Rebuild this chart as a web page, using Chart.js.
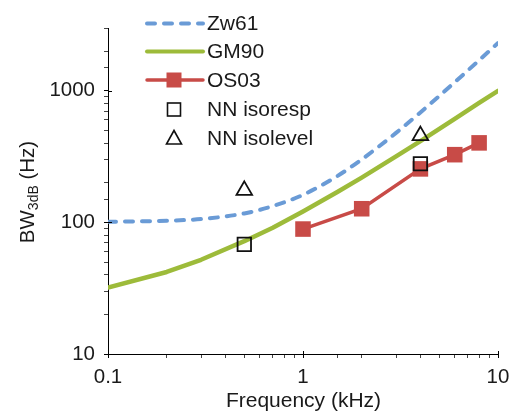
<!DOCTYPE html>
<html><head><meta charset="utf-8">
<script src="https://cdn.jsdelivr.net/npm/chart.js@4"></script>
<style>html,body{margin:0;padding:0;background:#fff;} #wrap{width:519px;height:414px;position:relative;}</style>
</head><body><div id="wrap"><canvas id="c" width="519" height="414"></canvas></div>
<script>
const zw61Freq = [0.1,0.2,0.3,0.5,0.7,1,1.5,2,3,4,5,6,8,10];
const zw61BW   = [101,103,106,117,133,162,225,301,479,685,914,1162,1706,2306];
const gm90Freq = [0.1,0.2,0.3,0.5,0.7,1,1.5,2,3,4,5,6,8,10];
const gm90BW   = [32,42,52,72,91,121,170,219,317,415,514,612,808,1000];
const os03Freq = [1,2,4,6,8];
const os03BW   = [89,127,255,327,402];
const isorespFreq = [0.5,4];
const isorespBW   = [68,279];
const isolevelFreq = [0.5,4];
const isolevelBW   = [175,456];
const xTickLabels = ['0.1','1','10'];
const yTickLabels = ['10','100','1000'];
const seriesNames = ['Zw61','GM90','OS03','NN isoresp','NN isolevel'];

const BLUE = '#6a9bd6', GREEN = '#9dbb3a', RED = '#c84b47', INK = '#111';
const FONT = '"Liberation Sans", Arial, sans-serif';

function pts(xs, ys){ return xs.map((x,i)=>({x:x, y:ys[i]})); }
function labelFor(list, v){
  for (const l of list){ if (Math.abs(Number(l) - v) < 1e-9 * Math.max(1, v)) return l; }
  return '';
}
function isMajor(v){ const l = Math.log10(v); return Math.abs(l - Math.round(l)) < 1e-9; }

const extras = {
  id: 'extras',
  afterDraw(chart){
    const ctx = chart.ctx;
    const xs = chart.scales.x, ys = chart.scales.y;
    ctx.save();
    ctx.strokeStyle = '#000'; ctx.lineWidth = 1;
    [1,10].forEach(v=>{ const px = Math.round(xs.getPixelForValue(v))+0.5; ctx.beginPath(); ctx.moveTo(px, ys.bottom); ctx.lineTo(px, ys.bottom-3); ctx.stroke(); });
    [10,100,1000].forEach(v=>{ const py = Math.round(ys.getPixelForValue(v))+0.5; ctx.beginPath(); ctx.moveTo(xs.left, py); ctx.lineTo(xs.left+4, py); ctx.stroke(); });
    // x title
    ctx.fillStyle = '#1a1a1a';
    ctx.font = '21px ' + FONT;
    ctx.textAlign = 'center'; ctx.textBaseline = 'alphabetic';
    ctx.fillText('Frequency (kHz)', 303.5, 406.5);
    // y title with subscript
    const main1 = 'BW', sub = '3dB', main2 = ' (Hz)';
    ctx.font = '20.5px ' + FONT; const w1 = ctx.measureText(main1).width, w3 = ctx.measureText(main2).width;
    ctx.font = '14px ' + FONT; const w2 = ctx.measureText(sub).width;
    const total = w1 + w2 + w3;
    ctx.translate(34, 192); ctx.rotate(-Math.PI/2);
    ctx.textAlign = 'left';
    let xp = -total/2;
    ctx.font = '20.5px ' + FONT; ctx.fillText(main1, xp, 0); xp += w1;
    ctx.font = '14px ' + FONT; ctx.fillText(sub, xp, 4); xp += w2;
    ctx.font = '20.5px ' + FONT; ctx.fillText(main2, xp, 0);
    ctx.setTransform(1,0,0,1,0,0);
    // legend
    const lx0 = 145, lx1 = 203, mx = 174, tx = 207;
    const rows = [23.5, 51.5, 80, 109.5, 138];
    ctx.lineCap = 'round';
    ctx.strokeStyle = BLUE; ctx.lineWidth = 4; ctx.setLineDash([8,9]);
    ctx.beginPath(); ctx.moveTo(lx0+2, rows[0]); ctx.lineTo(lx1, rows[0]); ctx.stroke();
    ctx.setLineDash([]);
    ctx.strokeStyle = GREEN; ctx.lineWidth = 4;
    ctx.beginPath(); ctx.moveTo(lx0+2, rows[1]); ctx.lineTo(lx1, rows[1]); ctx.stroke();
    ctx.strokeStyle = RED; ctx.lineWidth = 3.5;
    ctx.beginPath(); ctx.moveTo(lx0+2, rows[2]); ctx.lineTo(lx1, rows[2]); ctx.stroke();
    ctx.fillStyle = RED; ctx.fillRect(mx-7.5, rows[2]-7.5, 15, 15);
    ctx.lineCap = 'butt';
    ctx.strokeStyle = INK; ctx.lineWidth = 1.6;
    ctx.strokeRect(mx-6.5, rows[3]-6.5, 13, 13);
    ctx.beginPath(); ctx.moveTo(mx, rows[4]-7.5); ctx.lineTo(mx+7.5, rows[4]+6); ctx.lineTo(mx-7.5, rows[4]+6); ctx.closePath(); ctx.stroke();
    ctx.fillStyle = '#1a1a1a'; ctx.font = '21px ' + FONT; ctx.textAlign = 'left'; ctx.textBaseline = 'middle';
    seriesNames.forEach((n,i)=> ctx.fillText(n, tx, rows[i]+1));
    ctx.restore();
  }
};

const tickGrid = {
  drawOnChartArea: false, drawTicks: true, tickLength: 4,
  color: (c)=> (c.tick && isMajor(c.tick.value)) ? '#000' : '#444', lineWidth: 1
};

new Chart(document.getElementById('c'), {
  type: 'line',
  data: {
    datasets: [
      { label: seriesNames[3], data: pts(isorespFreq, isorespBW), showLine: false, order: 0,
        pointStyle: 'rect', pointRadius: 9.5, borderColor: INK, backgroundColor: 'rgba(0,0,0,0)', pointBorderWidth: 1.8 },
      { label: seriesNames[4], data: pts(isolevelFreq, isolevelBW), showLine: false, order: 0,
        pointStyle: 'triangle', pointRadius: 9, borderColor: INK, backgroundColor: 'rgba(0,0,0,0)', pointBorderWidth: 1.8 },
      { label: seriesNames[2], data: pts(os03Freq, os03BW), order: 1, borderColor: RED, backgroundColor: RED,
        borderWidth: 3.5, pointStyle: 'rect', pointRadius: 11, pointBorderWidth: 0, tension: 0 },
      { label: seriesNames[1], data: pts(gm90Freq, gm90BW), order: 2, borderColor: GREEN, borderWidth: 4.5,
        pointRadius: 0, tension: 0, borderCapStyle: 'round', borderJoinStyle: 'round' },
      { label: seriesNames[0], data: pts(zw61Freq, zw61BW), order: 3, borderColor: BLUE, borderWidth: 4,
        borderDash: [8,9], borderCapStyle: 'round', pointRadius: 0, cubicInterpolationMode: 'monotone' }
    ]
  },
  options: {
    responsive: false, animation: false, devicePixelRatio: 1,
    layout: { padding: { top: 28, right: 21, left: 0, bottom: 0 } },
    plugins: { legend: { display: false }, tooltip: { enabled: false } },
    scales: {
      x: { type: 'logarithmic', position: 'bottom', min: 0.1, max: 10,
        border: { color: '#000', width: 1 }, grid: tickGrid,
        ticks: { autoSkip: false, maxRotation: 0, padding: 7, color: '#1a1a1a', font: { size: 20.5, family: FONT },
          callback: (v)=> labelFor(xTickLabels, v) },
        afterFit: (s)=>{ s.height = 60; } },
      y: { type: 'logarithmic', position: 'left', min: 10, max: 3000,
        border: { color: '#000', width: 1 }, grid: tickGrid,
        ticks: { autoSkip: false, padding: 9, color: '#1a1a1a', font: { size: 20.5, family: FONT },
          callback: (v)=> labelFor(yTickLabels, v) },
        afterFit: (s)=>{ s.width = 108; } }
    }
  },
  plugins: [extras]
});
</script></body></html>
